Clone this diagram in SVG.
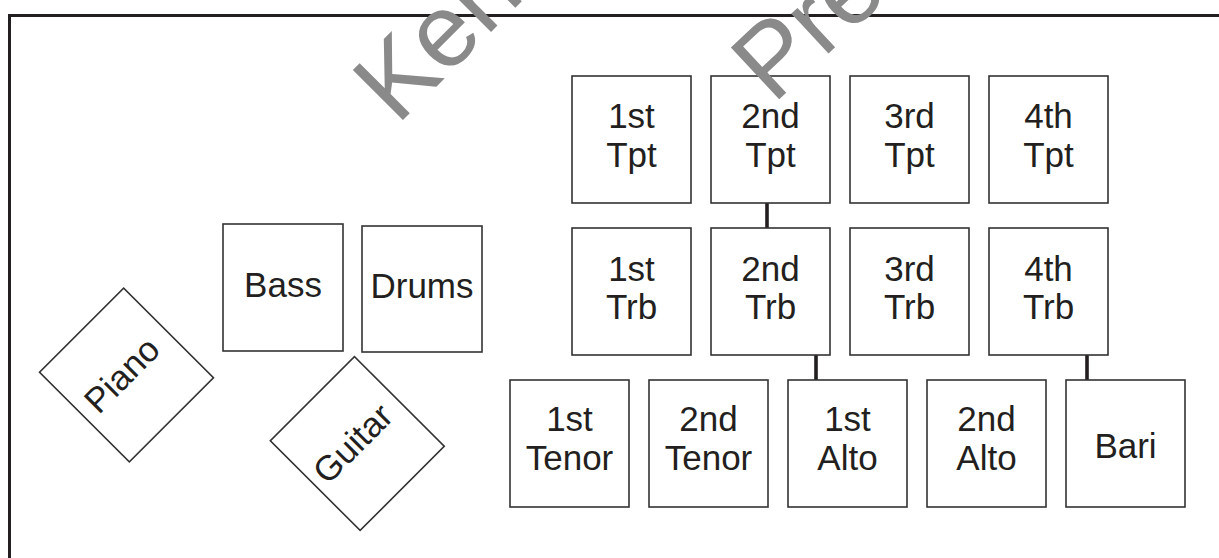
<svg xmlns="http://www.w3.org/2000/svg" width="1219" height="558" viewBox="0 0 1219 558">
  <style>
    .box { fill: #fff; stroke: #333; stroke-width: 1.6; }
    .lbl { font-family: "Liberation Sans", Arial, sans-serif; font-size: 35px; fill: #231f20; text-anchor: middle; }
    .conn { stroke: #231f20; stroke-width: 3.6; fill: none; }
    .wm { font-family: "Liberation Sans", Arial, sans-serif; font-size: 103px; fill: #8a8a8a; }
  </style>
  <rect width="1219" height="558" fill="#fff"/>
  <rect id="frame" x="9.5" y="15.5" width="1300" height="700" fill="none" stroke="#231f20" stroke-width="3"/>

  <g id="connectors">
    <line class="conn" x1="767" y1="203" x2="767" y2="228"/>
    <line class="conn" x1="816" y1="355" x2="816" y2="380"/>
    <line class="conn" x1="1087" y1="355" x2="1087" y2="380"/>
  </g>

  <g id="tpt1"><rect class="box" x="572" y="76" width="119" height="127"/><text class="lbl" x="631.5" y="128">1st</text><text class="lbl" x="631.5" y="167">Tpt</text></g>
  <g id="tpt2"><rect class="box" x="711" y="76" width="119" height="127"/><text class="lbl" x="770.5" y="128">2nd</text><text class="lbl" x="770.5" y="167">Tpt</text></g>
  <g id="tpt3"><rect class="box" x="850" y="76" width="119" height="127"/><text class="lbl" x="909.5" y="128">3rd</text><text class="lbl" x="909.5" y="167">Tpt</text></g>
  <g id="tpt4"><rect class="box" x="989" y="76" width="119" height="127"/><text class="lbl" x="1048.5" y="128">4th</text><text class="lbl" x="1048.5" y="167">Tpt</text></g>

  <g id="trb1"><rect class="box" x="572" y="228" width="119" height="127"/><text class="lbl" x="631.5" y="281">1st</text><text class="lbl" x="631.5" y="319">Trb</text></g>
  <g id="trb2"><rect class="box" x="711" y="228" width="119" height="127"/><text class="lbl" x="770.5" y="281">2nd</text><text class="lbl" x="770.5" y="319">Trb</text></g>
  <g id="trb3"><rect class="box" x="850" y="228" width="119" height="127"/><text class="lbl" x="909.5" y="281">3rd</text><text class="lbl" x="909.5" y="319">Trb</text></g>
  <g id="trb4"><rect class="box" x="989" y="228" width="119" height="127"/><text class="lbl" x="1048.5" y="281">4th</text><text class="lbl" x="1048.5" y="319">Trb</text></g>

  <g id="tenor1"><rect class="box" x="510" y="380" width="119" height="127"/><text class="lbl" x="569.5" y="431">1st</text><text class="lbl" x="569.5" y="470">Tenor</text></g>
  <g id="tenor2"><rect class="box" x="649" y="380" width="119" height="127"/><text class="lbl" x="708.5" y="431">2nd</text><text class="lbl" x="708.5" y="470">Tenor</text></g>
  <g id="alto1"><rect class="box" x="788" y="380" width="119" height="127"/><text class="lbl" x="847.5" y="431">1st</text><text class="lbl" x="847.5" y="470">Alto</text></g>
  <g id="alto2"><rect class="box" x="927" y="380" width="119" height="127"/><text class="lbl" x="986.5" y="431">2nd</text><text class="lbl" x="986.5" y="470">Alto</text></g>
  <g id="bari"><rect class="box" x="1066" y="380" width="119" height="127"/><text class="lbl" x="1125.5" y="458">Bari</text></g>

  <g id="bass"><rect class="box" x="223" y="224" width="120" height="127"/><text class="lbl" x="283" y="297">Bass</text></g>
  <g id="drums"><rect class="box" x="362" y="226" width="120" height="126"/><text class="lbl" x="422" y="298">Drums</text></g>

  <g id="piano" transform="translate(126.5,375) rotate(-45)"><rect class="box" x="-59.5" y="-63.5" width="119" height="127"/><text class="lbl" x="-3.2" y="8.8">Piano</text></g>
  <g id="guitar" transform="translate(357.3,443.5) rotate(-45)"><rect class="box" x="-59.5" y="-63.5" width="119" height="127"/><text class="lbl" x="-3.2" y="8.8">Guitar</text></g>

  <g id="watermark">
    <text class="wm" transform="translate(397,126) rotate(-45)">Ken</text>
    <text class="wm" transform="translate(773,105) rotate(-43)">Pre</text>
  </g>
</svg>
